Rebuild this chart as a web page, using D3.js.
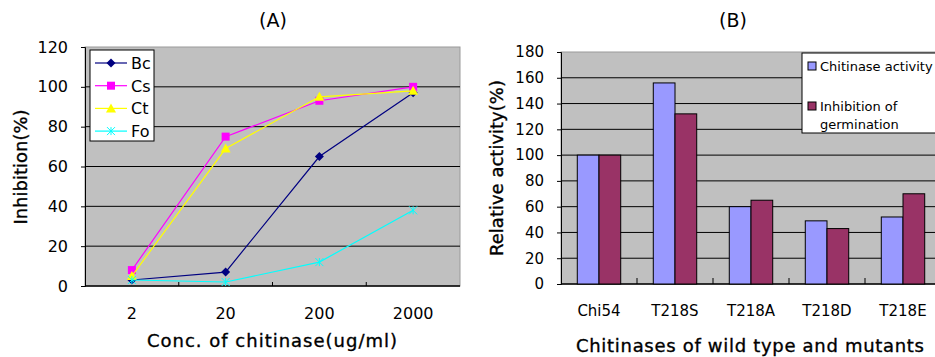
<!DOCTYPE html>
<html>
<head>
<meta charset="utf-8">
<script src="https://cdn.jsdelivr.net/npm/d3@7"></script>
<style>
  body { margin: 0; background: #fff; }
  text { font-family: "DejaVu Sans", sans-serif; fill: #000; }
</style>
</head>
<body>
<div id="chart"></div>
<script>
// (A) inhibition vs concentration
var concLabels = ["2", "20", "200", "2000"];
var seriesNames = ["Bc", "Cs", "Ct", "Fo"];
var bc = [3, 7, 65, 97];
var cs = [8, 75, 93, 100];
var ct = [5, 69, 95, 98];
var fo = [3, 2, 12, 38];
var inhTicks = [0, 20, 40, 60, 80, 100, 120];

// (B) relative activity of mutants
var mutants = ["Chi54", "T218S", "T218A", "T218D", "T218E"];
var barNames = ["Chitinase activity", "Inhibition of germination"];
var activity = [100, 156, 60, 49, 52];
var inhibition = [100, 132, 65, 43, 70];
var relTicks = [0, 20, 40, 60, 80, 100, 120, 140, 160, 180];

var W = 935, H = 357;
var svg = d3.select("#chart").append("svg")
  .attr("width", W).attr("height", H);

var plotBg = "#c0c0c0";

// ---------- chart A ----------
var a = { left: 85, right: 460, top: 47, bottom: 286 };
var xA = d3.scaleBand().domain(concLabels).range([a.left, a.right]);
var yA = d3.scaleLinear().domain([0, 120]).range([a.bottom, a.top]);

var gA = svg.append("g");
gA.append("rect")
  .attr("x", a.left).attr("y", a.top)
  .attr("width", a.right - a.left).attr("height", a.bottom - a.top)
  .attr("fill", plotBg).attr("stroke", "#9a9a9a");

gA.selectAll(".grid").data(inhTicks.filter(function(d) { return d > 0 && d < 120; }))
  .enter().append("line")
  .attr("x1", a.left).attr("x2", a.right)
  .attr("y1", function(d) { return yA(d); })
  .attr("y2", function(d) { return yA(d); })
  .attr("stroke", "#000").attr("stroke-width", 1);

var axA = gA.append("g").attr("transform", "translate(" + a.left + ",0)")
  .call(d3.axisLeft(yA).tickValues(inhTicks).tickSize(4).tickPadding(13));
axA.select(".domain").attr("stroke", "#000");
axA.selectAll("text").style("font-size", "16px").attr("fill", "#000");

// x axis: ticks between categories
var bxA = gA.append("g").attr("transform", "translate(0," + a.bottom + ")");
bxA.append("line").attr("x1", a.left).attr("x2", a.right).attr("stroke", "#000").attr("stroke-width", 1.5);
bxA.selectAll(".tk").data(concLabels.slice(1)).enter().append("line")
  .attr("x1", function(d) { return xA(d); })
  .attr("x2", function(d) { return xA(d); })
  .attr("y1", -4).attr("y2", 0).attr("stroke", "#000");
bxA.selectAll(".lb").data(concLabels).enter().append("text")
  .attr("x", function(d) { return xA(d) + xA.bandwidth() / 2; })
  .attr("y", 33).attr("text-anchor", "middle")
  .style("font-size", "16px")
  .text(function(d) { return d; });

var lineData = [
  { name: "Bc", vals: bc, color: "#000080", shape: "diamond" },
  { name: "Cs", vals: cs, color: "#ff00ff", shape: "square" },
  { name: "Ct", vals: ct, color: "#ffff00", shape: "triangle" },
  { name: "Fo", vals: fo, color: "#00ffff", shape: "cross" }
];

var line = d3.line()
  .x(function(d, i) { return xA(concLabels[i]) + xA.bandwidth() / 2; })
  .y(function(d) { return yA(d); });

function marker(g, s, x, y) {
  var p = g.append("path").attr("transform", "translate(" + x + "," + y + ")");
  if (s.shape === "diamond") {
    p.attr("d", "M0,-4.5L4.5,0L0,4.5L-4.5,0Z").attr("fill", s.color);
  } else if (s.shape === "square") {
    p.attr("d", "M-4,-4H4V4H-4Z").attr("fill", s.color);
  } else if (s.shape === "triangle") {
    p.attr("d", "M0,-5L5,4H-5Z").attr("fill", s.color);
  } else {
    p.attr("d", "M-4,-4L4,4M-4,4L4,-4M0,-4L0,4")
      .attr("stroke", s.color).attr("stroke-width", 1).attr("fill", "none");
  }
}

lineData.forEach(function(s) {
  gA.append("path").datum(s.vals)
    .attr("d", line).attr("fill", "none")
    .attr("stroke", s.color).attr("stroke-width", 1.2);
  s.vals.forEach(function(v, i) {
    marker(gA, s, xA(concLabels[i]) + xA.bandwidth() / 2, yA(v));
  });
});

// legend A
var lgA = gA.append("g").attr("transform", "translate(90,50)");
lgA.append("rect").attr("width", 64).attr("height", 91)
  .attr("fill", "#fff").attr("stroke", "#000");
lineData.forEach(function(s, i) {
  var yy = 13 + i * 22.7;
  lgA.append("line").attr("x1", 5).attr("x2", 37).attr("y1", yy).attr("y2", yy)
    .attr("stroke", s.color).attr("stroke-width", 1.2);
  marker(lgA, s, 21, yy);
  lgA.append("text").attr("x", 41).attr("y", yy + 6)
    .style("font-size", "16px").text(s.name);
});

svg.append("text").attr("x", 273).attr("y", 27).attr("text-anchor", "middle")
  .style("font-size", "19px").text("(A)");
svg.append("text").attr("x", 147).attr("y", 347)
  .attr("textLength", 250).attr("lengthAdjust", "spacing")
  .style("font-size", "18px").style("stroke", "#000").style("stroke-width", "0.35px")
  .text("Conc. of chitinase(ug/ml)");
svg.append("text").attr("transform", "translate(27,167) rotate(-90)").attr("text-anchor", "middle")
  .style("font-size", "18px").style("stroke", "#000").style("stroke-width", "0.35px")
  .text("Inhibition(%)");

// ---------- chart B ----------
var b = { left: 561, right: 941, top: 52, bottom: 284 };
var xB = d3.scaleBand().domain(mutants).range([b.left, b.right]);
var xSub = d3.scaleBand().domain(barNames).range([0, xB.bandwidth()]).paddingOuter(0.75).paddingInner(0);
var yB = d3.scaleLinear().domain([0, 180]).range([b.bottom, b.top]);

var gB = svg.append("g");
gB.append("rect")
  .attr("x", b.left).attr("y", b.top)
  .attr("width", b.right - b.left).attr("height", b.bottom - b.top)
  .attr("fill", plotBg).attr("stroke", "#9a9a9a");

gB.selectAll(".grid").data(relTicks.filter(function(d) { return d > 0 && d < 180; }))
  .enter().append("line")
  .attr("x1", b.left).attr("x2", b.right)
  .attr("y1", function(d) { return yB(d); })
  .attr("y2", function(d) { return yB(d); })
  .attr("stroke", "#000");

var axB = gB.append("g").attr("transform", "translate(" + b.left + ",0)")
  .call(d3.axisLeft(yB).tickValues(relTicks).tickSize(4).tickPadding(13));
axB.select(".domain").attr("stroke", "#000");
axB.selectAll("text").style("font-size", "15px").attr("fill", "#000");

var bxB = gB.append("g").attr("transform", "translate(0," + b.bottom + ")");
bxB.append("line").attr("x1", b.left).attr("x2", b.right).attr("stroke", "#000").attr("stroke-width", 1.5);
bxB.selectAll(".tk").data(mutants.slice(1)).enter().append("line")
  .attr("x1", function(d) { return xB(d); })
  .attr("x2", function(d) { return xB(d); })
  .attr("y1", -6).attr("y2", 0).attr("stroke", "#000");
bxB.selectAll(".lb").data(mutants).enter().append("text")
  .attr("x", function(d) { return xB(d) + xB.bandwidth() / 2; })
  .attr("y", 32).attr("text-anchor", "middle")
  .style("font-size", "15px")
  .text(function(d) { return d; });

var barColors = ["#9999ff", "#993366"];
var barSets = [activity, inhibition];
barSets.forEach(function(vals, k) {
  gB.selectAll(".bar" + k).data(vals).enter().append("rect")
    .attr("x", function(d, i) { return xB(mutants[i]) + xSub(barNames[k]); })
    .attr("y", function(d) { return yB(d); })
    .attr("width", xSub.bandwidth())
    .attr("height", function(d) { return b.bottom - yB(d); })
    .attr("fill", barColors[k]).attr("stroke", "#000").attr("stroke-width", 1);
});

// legend B
var lgB = gB.append("g").attr("transform", "translate(802,53)");
lgB.append("rect").attr("width", 140).attr("height", 80)
  .attr("fill", "#fff").attr("stroke", "#000");
var legRows = [["Chitinase activity"], ["Inhibition of", "germination"]];
legRows.forEach(function(lines, k) {
  var yy = 13 + k * 40;
  lgB.append("rect").attr("x", 6).attr("y", yy - 4).attr("width", 8).attr("height", 8)
    .attr("fill", barColors[k]).attr("stroke", "#000");
  lines.forEach(function(t, j) {
    lgB.append("text").attr("x", 18).attr("y", yy + 5 + j * 18)
      .style("font-size", "13px").text(t);
  });
});

svg.append("text").attr("x", 733).attr("y", 27).attr("text-anchor", "middle")
  .style("font-size", "19px").text("(B)");
svg.append("text").attr("x", 576).attr("y", 352)
  .attr("textLength", 348).attr("lengthAdjust", "spacing")
  .style("font-size", "18px").style("stroke", "#000").style("stroke-width", "0.35px")
  .text("Chitinases of wild type and mutants");
svg.append("text").attr("transform", "translate(503,168) rotate(-90)").attr("text-anchor", "middle")
  .style("font-size", "18px").style("stroke", "#000").style("stroke-width", "0.35px")
  .text("Relative activity(%)");
</script>
</body>
</html>
